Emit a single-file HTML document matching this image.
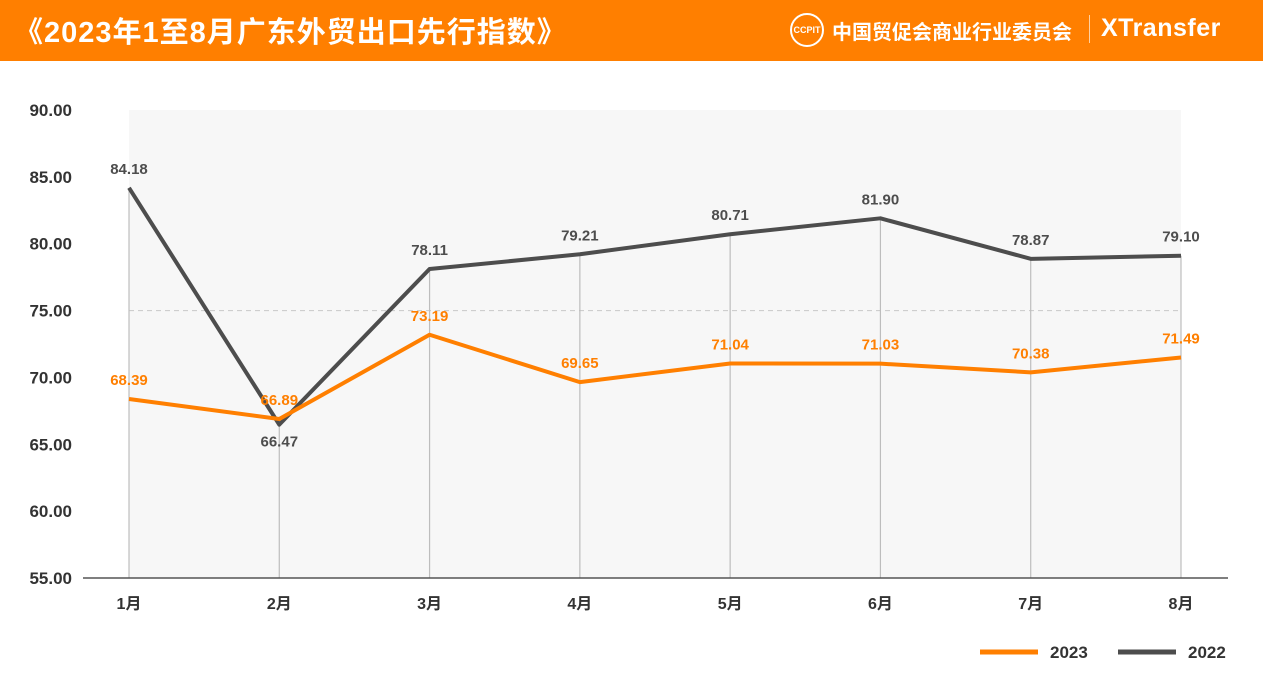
<!DOCTYPE html>
<html><head><meta charset="utf-8">
<style>
body{margin:0;width:1263px;height:679px;background:#fff;overflow:hidden;font-family:"Liberation Sans","Noto Sans CJK SC",sans-serif;}
#hdr{position:absolute;left:0;top:0;width:1263px;height:61px;background:#ff7f00;color:#fff;}
#title{position:absolute;left:14px;top:9px;font-size:29px;font-weight:bold;letter-spacing:1px;}
#org{position:absolute;left:832px;top:16px;font-size:20px;font-weight:bold;}
#sep{position:absolute;left:1089px;top:15px;width:1px;height:28px;background:#ffd0a0;}
#xt{position:absolute;left:1101px;top:14px;font-size:25px;font-weight:bold;letter-spacing:0.5px;}
#logo{position:absolute;left:790px;top:13px;width:34px;height:34px;border:2px solid #fff;border-radius:50%;box-sizing:border-box;font-size:9px;font-weight:bold;text-align:center;line-height:30px;}
svg{position:absolute;left:0;top:0;}
</style></head><body>
<div id="hdr">
<div id="title">《2023年1至8月广东外贸出口先行指数》</div>
<div id="logo">CCPIT</div>
<div id="org">中国贸促会商业行业委员会</div>
<div id="sep"></div>
<div id="xt">XTransfer</div>
</div>
<svg id="chart" width="1263" height="679"></svg>
<script>
const categories=["1月","2月","3月","4月","5月","6月","7月","8月"];
const series2023=[68.39,66.89,73.19,69.65,71.04,71.03,70.38,71.49];
const series2022=[84.18,66.47,78.11,79.21,80.71,81.90,78.87,79.10];
const yTicks=[55,60,65,70,75,80,85,90];
const NS="http://www.w3.org/2000/svg";
const svg=document.getElementById('chart');
const x=i=>129+i*(1181-129)/(categories.length-1);
const y=v=>578-(v-55)*(578-110)/35;
function mk(t,a,p){const e=document.createElementNS(NS,t);for(const k in a)e.setAttribute(k,a[k]);(p||svg).appendChild(e);return e;}
let bg=mk('rect',{x:129,y:y(90),width:1181-129,height:y(55)-y(90),fill:'#f7f7f7'});


let dl=mk('line',{x1:129,x2:1181,y1:y(75),y2:y(75),stroke:'#c8c8c8','stroke-dasharray':'5,4'});


yTicks.forEach(v=>{const t=mk('text',{x:72,y:y(v)+6,'text-anchor':'end','font-size':17,fill:'#333','font-weight':'bold'});t.textContent=v.toFixed(2);

});
categories.forEach((c,i)=>{const l=mk('line',{x1:x(i),x2:x(i),y1:Math.min(y(series2022[i]),y(series2023[i])),y2:578,stroke:'#bdbdbd','stroke-width':1.2});


const t=mk('text',{x:x(i),y:609,'text-anchor':'middle','font-size':16,fill:'#333','font-weight':'bold'});t.textContent=c;

});
let ax=mk('line',{x1:83,x2:1228,y1:578,y2:578,stroke:'#555','stroke-width':1.5});


function drawSeries(vals,color,name,below){
 const p=mk('polyline',{points:vals.map((v,i)=>x(i)+','+y(v)).join(' '),fill:'none',stroke:color,'stroke-width':4,'stroke-linejoin':'round'});
 
 
 vals.forEach((v,i)=>{const bl=below&&below(i);const t=mk('text',{x:x(i),y:bl?y(v)+22:y(v)-14,'text-anchor':'middle','font-size':15,fill:color,'font-weight':'bold'});t.textContent=v.toFixed(2);
 
 });
}
drawSeries(series2022,'#4d4d4d','2022',i=>series2022[i]<series2023[i]);
drawSeries(series2023,'#ff7f00','2023',null);
[['2023','#ff7f00',980],['2022','#4d4d4d',1118]].forEach(([n,c,lx])=>{
 const l=mk('line',{x1:lx,x2:lx+58,y1:652,y2:652,stroke:c,'stroke-width':5});
 
 
 const t=mk('text',{x:lx+70,y:658,'font-size':17,fill:'#333','font-weight':'bold'});t.textContent=n;
 
 
});
</script>
</body></html>
